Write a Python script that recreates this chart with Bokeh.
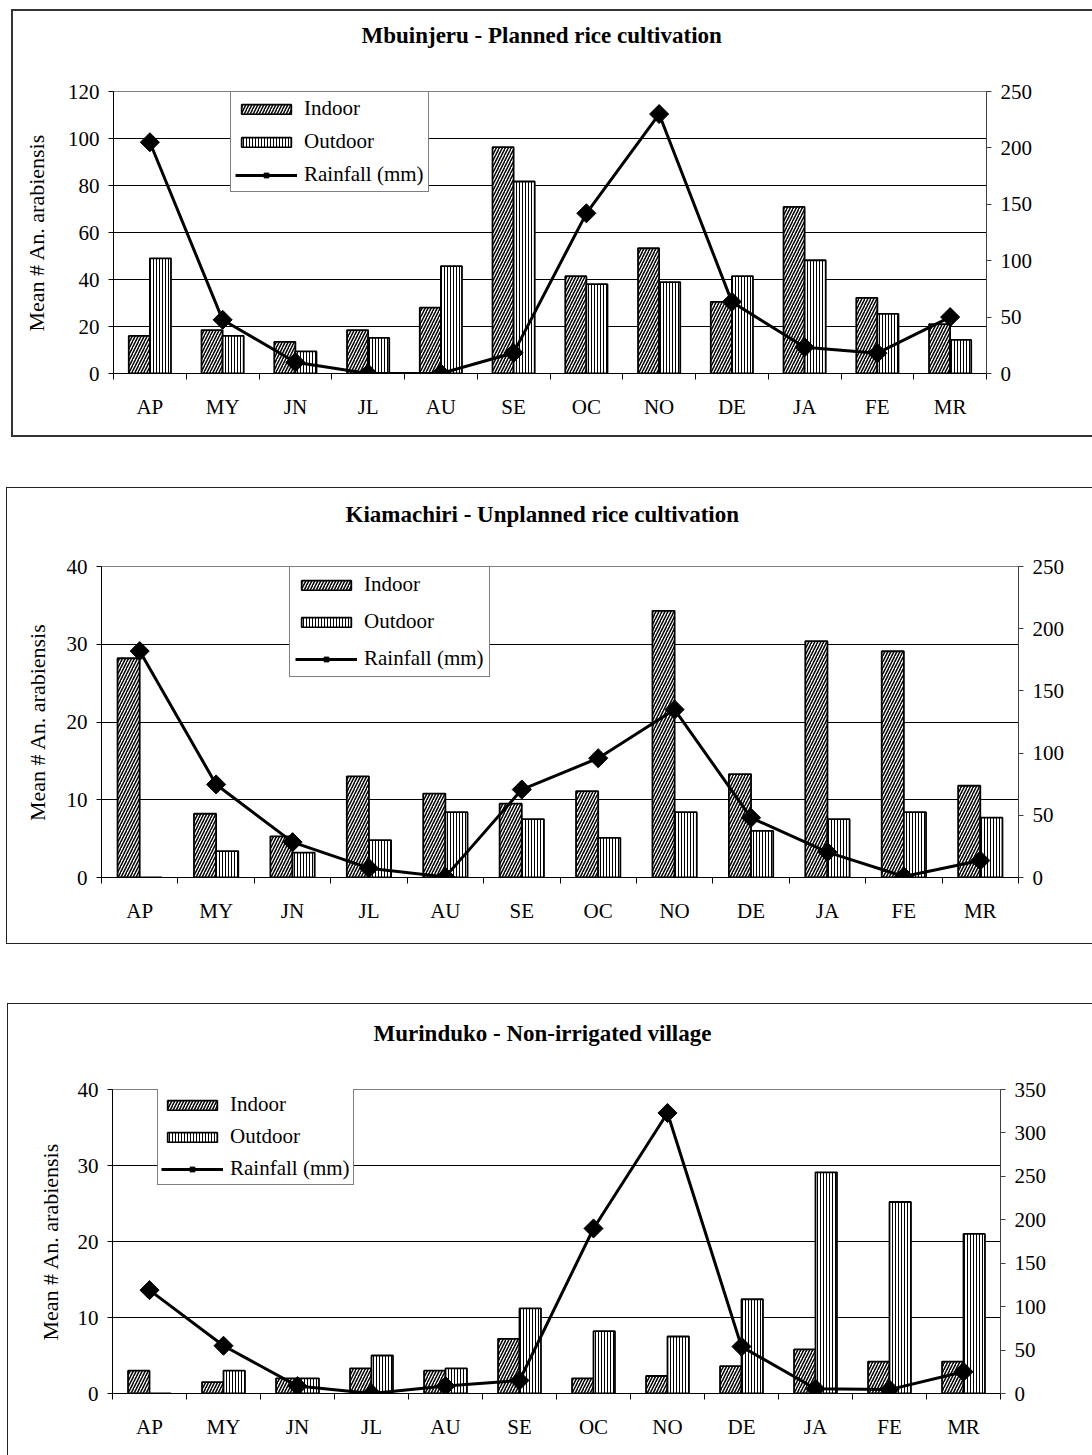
import numpy as np
from bokeh.plotting import figure
from bokeh.models import (Range1d, LinearAxis, FixedTicker, Legend, LegendItem,
                          ColumnDataSource, Spacer, Title)
from bokeh.transform import dodge
from bokeh.layouts import column, row
from bokeh.embed import file_html
from bokeh.resources import INLINE

# ---------------- data ----------------
months = ["AP", "MY", "JN", "JL", "AU", "SE", "OC", "NO", "DE", "JA", "FE", "MR"]

mbu_title = "Mbuinjeru - Planned rice cultivation"
mbu_indoor = [16, 18.5, 13.5, 18.5, 28, 96.3, 41.4, 53.3, 30.5, 70.9, 32.2, 21]
mbu_outdoor = [49, 16, 9.4, 15.2, 45.7, 81.7, 38, 38.9, 41.4, 48.2, 25.4, 14.3]
mbu_rain = [205, 47.6, 10, 0, 0, 18.3, 142, 230, 63.5, 23.3, 18, 50]
mbu_left_ticks = [0, 20, 40, 60, 80, 100, 120]
mbu_right_ticks = [0, 50, 100, 150, 200, 250]

kia_title = "Kiamachiri - Unplanned rice cultivation"
kia_indoor = [28.2, 8.2, 5.3, 13.0, 10.8, 9.5, 11.1, 34.3, 13.3, 30.4, 29.1, 11.8]
kia_outdoor = [0, 3.4, 3.2, 4.8, 8.4, 7.5, 5.1, 8.4, 6.0, 7.5, 8.4, 7.7]
kia_rain = [182, 74.8, 28.4, 7.5, 0.5, 70.7, 95.9, 135, 48, 20.4, 0.8, 13.7]
kia_left_ticks = [0, 10, 20, 30, 40]
kia_right_ticks = [0, 50, 100, 150, 200, 250]

mur_title = "Murinduko - Non-irrigated village"
mur_indoor = [3.0, 1.5, 2.0, 3.3, 3.0, 7.2, 2.0, 2.3, 3.6, 5.8, 4.2, 4.2]
mur_outdoor = [0, 3.0, 2.0, 5.0, 3.3, 11.2, 8.2, 7.5, 12.4, 29.1, 25.2, 21.0]
mur_rain = [119, 55, 8.5, 0, 8.5, 15, 190, 323, 54, 5.5, 4.5, 25]
mur_left_ticks = [0, 10, 20, 30, 40]
mur_right_ticks = [0, 50, 100, 150, 200, 250, 300, 350]

y_label = "Mean # An. arabiensis"
series_names = ["Indoor", "Outdoor", "Rainfall (mm)"]

FONT = "Liberation Serif"


def make_panel(title, indoor, outdoor, rain, left_ticks, right_ticks,
               width, height, borders, legend_loc, legend_pad, legend_spacing,
               title_gap, title_offset, border_css, ylabel_standoff):
    n = len(months)
    pos = list(range(n))
    src = ColumnDataSource(dict(x=pos, indoor=indoor, outdoor=outdoor, rain=rain))
    bl, br, bt, bb = borders
    p = figure(width=width, height=height,
               x_range=Range1d(-0.5, n - 0.5),
               y_range=Range1d(left_ticks[0], left_ticks[-1]),
               output_backend="svg", toolbar_location=None,
               min_border_left=bl, min_border_right=br,
               min_border_top=bt, min_border_bottom=bb)
    p.styles = {"outline": border_css, "outline-offset": "0px"}
    p.extra_y_ranges = {"rain": Range1d(right_ticks[0], right_ticks[-1])}
    p.background_fill_color = "white"
    p.border_fill_color = "white"
    p.outline_line_color = "#808080"
    p.outline_line_width = 1

    # x axis (below): labels at centres, ticks between categories
    xa = p.below[0]
    xa.ticker = FixedTicker(ticks=pos, minor_ticks=[i - 0.5 for i in range(n + 1)])
    xa.major_label_overrides = {i: m for i, m in enumerate(months)}
    xa.major_tick_out = 0
    xa.major_tick_in = 0
    xa.minor_tick_out = 6
    xa.minor_tick_in = 0
    xa.minor_tick_line_color = "black"
    xa.minor_tick_line_width = 1
    xa.axis_line_color = "black"
    xa.axis_line_width = 1
    xa.major_label_text_font = FONT
    xa.major_label_text_font_size = "21px"
    xa.major_label_text_color = "black"
    xa.major_label_standoff = 15

    # bare axis above the frame: an unseen tick keeps the gap between
    # the title and the frame
    gap_axis = LinearAxis(ticker=FixedTicker(ticks=[pos[0]]), axis_line_color=None,
                          major_tick_line_color=None, minor_tick_line_color=None,
                          major_tick_out=title_gap, major_tick_in=0,
                          minor_tick_out=0, minor_tick_in=0,
                          major_label_standoff=0,
                          major_label_text_font_size="1px",
                          major_label_text_color=None,
                          major_label_overrides={pos[0]: ""})
    p.add_layout(gap_axis, "above")

    # title (outside the gap axis)
    t = Title(text=title, align="left", offset=title_offset, standoff=0,
              text_font=FONT, text_font_size="23px", text_font_style="bold",
              text_color="black")
    p.add_layout(t, "above")

    # left axis
    ya = p.left[0]
    ya.ticker = FixedTicker(ticks=left_ticks)
    ya.major_tick_out = 5
    ya.major_tick_in = 0
    ya.minor_tick_line_color = None
    ya.axis_line_color = "black"
    ya.major_tick_line_color = "black"
    ya.major_label_text_font = FONT
    ya.major_label_text_font_size = "21px"
    ya.major_label_text_color = "black"
    ya.major_label_standoff = 9
    ya.axis_label = y_label
    ya.axis_label_text_font = FONT
    ya.axis_label_text_font_size = "22px"
    ya.axis_label_text_font_style = "normal"
    ya.axis_label_text_color = "black"
    ya.axis_label_standoff = ylabel_standoff

    # right axis
    ra = LinearAxis(y_range_name="rain", ticker=FixedTicker(ticks=right_ticks))
    ra.major_tick_out = 5
    ra.major_tick_in = 0
    ra.minor_tick_line_color = None
    ra.axis_line_color = "#404040"
    ra.major_tick_line_color = "#404040"
    ra.major_label_text_font = FONT
    ra.major_label_text_font_size = "21px"
    ra.major_label_text_color = "black"
    ra.major_label_standoff = 9
    p.add_layout(ra, "right")

    # grid
    p.xgrid.visible = False
    p.ygrid[0].ticker = FixedTicker(ticks=left_ticks[1:-1])
    p.ygrid[0].grid_line_color = "black"
    p.ygrid[0].grid_line_width = 1

    # bars
    r_in = p.vbar(x=dodge("x", -0.145), top="indoor", width=0.29, source=src,
                  fill_color="white", line_color="black", line_width=1.8,
                  hatch_pattern="right_diagonal_line", hatch_color="black",
                  hatch_scale=6, hatch_weight=1.5)
    r_out = p.vbar(x=dodge("x", 0.145), top="outdoor", width=0.29, source=src,
                   fill_color="white", line_color="black", line_width=1.8,
                   hatch_pattern="vertical_line", hatch_color="black",
                   hatch_scale=3, hatch_weight=1)

    # rainfall
    r_line = p.line(x="x", y="rain", source=src, y_range_name="rain",
                    line_color="black", line_width=3)
    r_mark = p.scatter(x="x", y="rain", source=src, y_range_name="rain",
                       marker="square", angle=np.pi / 4, size=13.5,
                       fill_color="black", line_color="black")

    legend = Legend(items=[LegendItem(label=series_names[0], renderers=[r_in]),
                           LegendItem(label=series_names[1], renderers=[r_out]),
                           LegendItem(label=series_names[2], renderers=[r_line, r_mark])],
                    location=legend_loc)
    legend.border_line_color = "black"
    legend.border_line_width = 1
    legend.background_fill_color = "white"
    legend.background_fill_alpha = 1
    legend.label_text_font = FONT
    legend.label_text_font_size = "21px"
    legend.label_text_color = "black"
    legend.glyph_width = 62
    legend.glyph_height = 12
    legend.label_height = 24
    legend.label_standoff = 7
    legend.label_width = 195 - 62 - 7 - 2 * legend_pad
    legend.spacing = legend_spacing
    legend.padding = legend_pad
    legend.margin = 0
    p.add_layout(legend)
    return p


p1 = make_panel(mbu_title, mbu_indoor, mbu_outdoor, mbu_rain, mbu_left_ticks,
                mbu_right_ticks, 1079, 424, (100, 106, 80, 62), (117, 181), 4, 8,
                44, 248, "2px solid #333", 16)
p2 = make_panel(kia_title, kia_indoor, kia_outdoor, kia_rain, kia_left_ticks,
                kia_right_ticks, 1085, 455, (94, 74, 78, 66), (188, 200), 5, 12,
                40, 244, "1px solid #222", 14)
p3 = make_panel(mur_title, mur_indoor, mur_outdoor, mur_rain, mur_left_ticks,
                mur_right_ticks, 1084, 451, (104, 92, 85, 62), (45, 208), 3, 7,
                44, 261, "1px solid #222", 12)

layout = column(Spacer(width=1092, height=11),
                row(Spacer(width=13, height=424), p1),
                Spacer(width=1092, height=53),
                row(Spacer(width=7, height=455), p2),
                Spacer(width=1092, height=61),
                row(Spacer(width=8, height=451), p3))

open("out.html", "w").write(file_html(layout, INLINE))
